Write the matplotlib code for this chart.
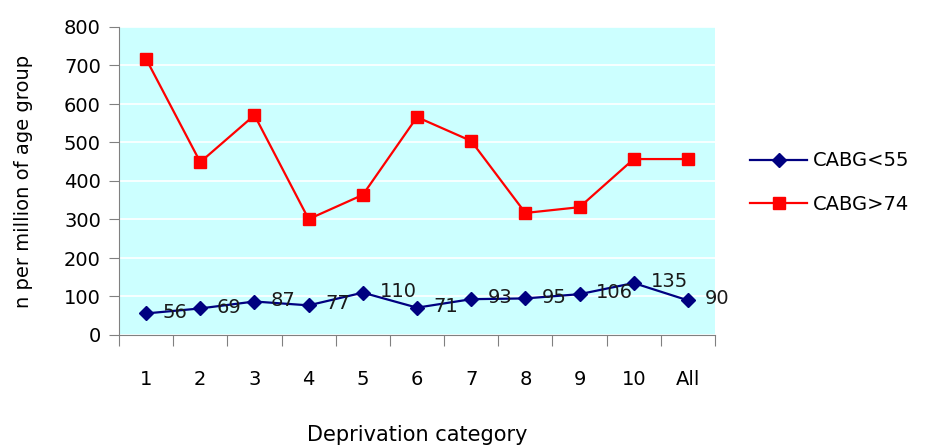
import matplotlib
matplotlib.use('Agg')
import numpy as np
import matplotlib.pyplot as plt

# dados
categorias = ['1', '2', '3', '4', '5', '6', '7', '8', '9', '10', 'All']
cabg_55 = [56, 69, 87, 77, 110, 71, 93, 95, 106, 135, 90]
cabg_74 = [717, 449, 571, 301, 364, 566, 504, 317, 332, 457, 457]

plt.rcParams['font.family'] = ['DejaVu Sans']
TAM = 14

fig = plt.figure(figsize=(9.25, 4.48), dpi=100)
ax = fig.add_axes([119 / 925, 1 - 335 / 448, 596 / 925, 308 / 448])
ax.set_facecolor('#ccffff')

x = np.arange(len(categorias))

ax.plot(x, cabg_55, color='#000080', marker='D', markersize=7, linewidth=1.6, label='CABG<55')
ax.plot(x, cabg_74, color='#ff0000', marker='s', markersize=9, linewidth=1.6, label='CABG>74')

# rótulos da série azul
for xi, v in zip(x, cabg_55):
    ax.annotate(str(v), (xi, v), xytext=(12, 1), textcoords='offset points',
                ha='left', va='center', fontsize=TAM, color='#1a1a1a')

ax.set_xlim(-0.5, len(categorias) - 0.5)
ax.set_ylim(0, 800)
ax.set_yticks(range(0, 801, 100))
ax.grid(axis='y', color='white', linewidth=1.2)
ax.set_axisbelow(True)

# ticks do eixo x nas fronteiras entre categorias
ax.set_xticks(np.arange(-0.5, len(categorias), 1))
ax.set_xticklabels([])
ax.set_xticks(x, minor=True)
ax.set_xticklabels(categorias, minor=True, fontsize=TAM)
ax.tick_params(axis='x', which='minor', length=0, pad=25)
ax.tick_params(axis='x', which='major', length=8, color='#808080', direction='out')
ax.tick_params(axis='y', length=7, color='#808080', labelsize=TAM, pad=6)

for s in ['top', 'right']:
    ax.spines[s].set_visible(False)
for s in ['left', 'bottom']:
    ax.spines[s].set_color('#808080')

ax.set_ylabel('n per million of age group', fontsize=TAM, labelpad=22)
ax.set_xlabel('Deprivation category', fontsize=TAM + 1, labelpad=26)

ax.legend(loc='center left', bbox_to_anchor=(1.03, 0.495), frameon=False,
          fontsize=TAM, handlelength=2.9, labelspacing=1.25, handletextpad=0.3)

fig.savefig('out.png', dpi=100)
